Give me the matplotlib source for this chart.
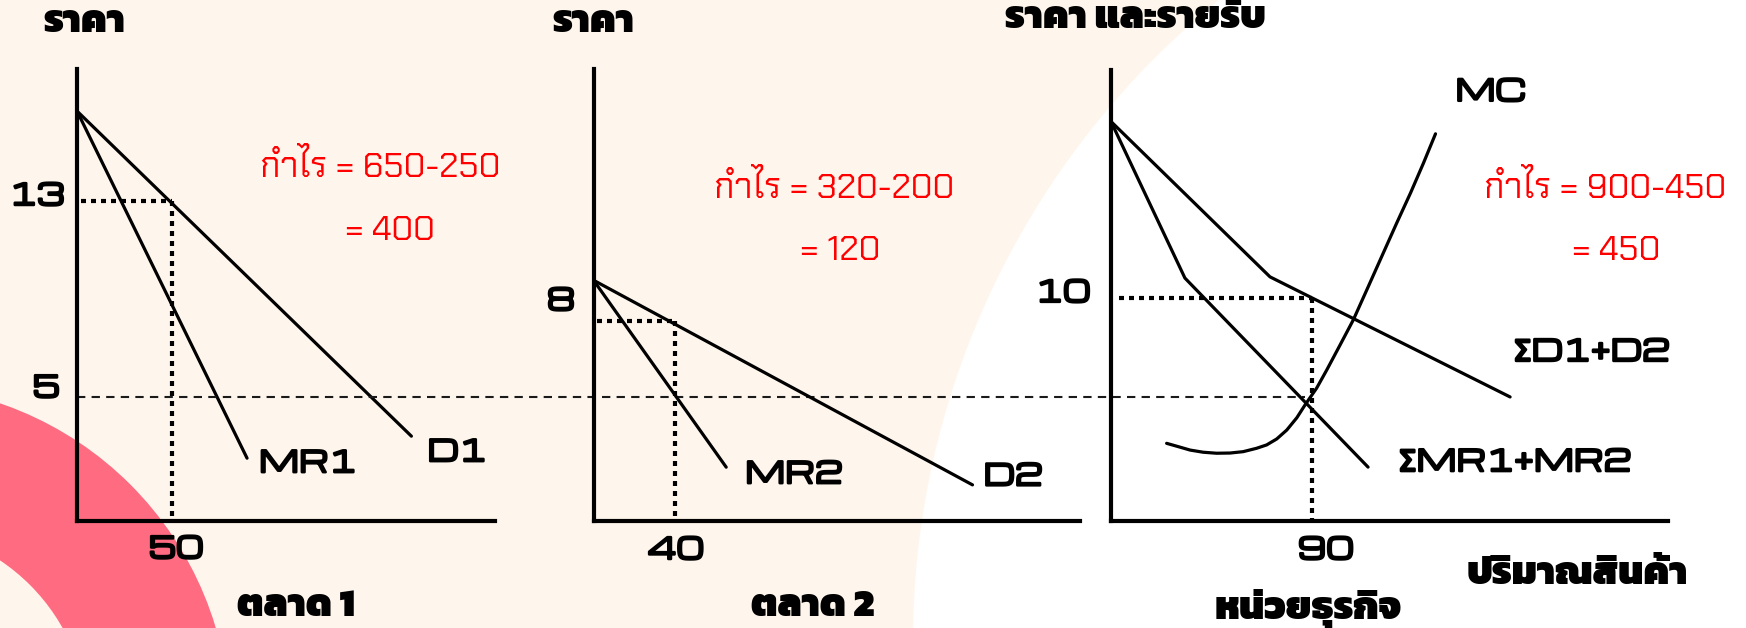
import matplotlib
matplotlib.use('Agg')
import matplotlib.pyplot as plt
import matplotlib.patheffects as pe
from matplotlib.patches import Circle

# ── data (price / quantity units) ──
# ตลาด 1
d1_q, d1_p = [0, 176], [16.7, 3.4]
mr1_q, mr1_p = [0, 89.5], [16.7, 2.5]
q1_opt, p1_opt = 50, 13
# ตลาด 2
d2_q, d2_p = [0, 186.5], [9.6, 1.5]
mr2_q, mr2_p = [0, 65.3], [9.6, 2.2]
q2_opt, p2_opt = 40, 8
# หน่วยธุรกิจ (รวม)
sd_q, sd_p = [0, 71.2, 178.7], [18.9, 11.06, 5.0]
smr_q, smr_p = [0, 33.1, 115.1], [18.9, 11.0, 1.46]
mc_q = [24.9, 30.2, 35.4, 41.3, 47.3, 53.3, 59.2, 65.2, 69.7, 74.2, 78.7, 83.2,
        86.9, 92.1, 96.6, 102.6, 108.5, 115.2, 121.9, 127.9, 134.1, 139.9, 145.3]
mc_p = [2.66, 2.49, 2.32, 2.21, 2.16, 2.17, 2.24, 2.41, 2.58, 2.88, 3.33, 3.95,
        4.6, 5.45, 6.36, 7.63, 8.89, 10.57, 12.26, 13.77, 15.29, 16.8, 18.28]
q3_opt, p3_opt = 90, 10
mc_level = 5
mc_cross = 12         # index of the MC point where MC = MR

profit_text = [('กำไร = 650-250', '= 400'),
               ('กำไร = 320-200', '= 120'),
               ('กำไร = 900-450', '= 450')]

W, H = 1746, 628
CREAM = '#FEF6EC'
PINK = '#FF6B81'
HEAVY = [pe.withStroke(linewidth=1.8, foreground='black')]
BOLD = dict(family=['Michroma', 'Russo One', 'Kanit', 'DejaVu Sans'], color='black',
            path_effects=HEAVY)
THAI = dict(family=['Kanit', 'DejaVu Sans'], fontweight=900, color='black')
RED = dict(family=['Chakra Petch', 'DejaVu Sans'], color='#FF0000', fontsize=25)
LW = 2.3

fig = plt.figure(figsize=(W / 100, H / 100), dpi=100, facecolor=CREAM)

# ── background decoration ──
bg = fig.add_axes([0, 0, 1, 1], zorder=-5)
bg.set_xlim(0, W)
bg.set_ylim(H, 0)
bg.axis('off')
bg.add_patch(Circle((1739, 642), 826, color='white', lw=0))
bg.add_patch(Circle((-110, 725), 340, color=PINK, lw=0))
bg.add_patch(Circle((-110, 725), 198, color=CREAM, lw=0))


def px(x0, y0, x1, y1):
    """left/top/right/bottom in pixels -> add_axes rect"""
    return [x0 / W, 1 - y1 / H, (x1 - x0) / W, (y1 - y0) / H]


def setup(ax, xlim, ylim):
    ax.set_xlim(*xlim)
    ax.set_ylim(*ylim)
    ax.patch.set_alpha(0)
    for s in ('top', 'right'):
        ax.spines[s].set_visible(False)
    for s in ('left', 'bottom'):
        ax.spines[s].set_linewidth(3.0)
        ax.spines[s].set_capstyle('projecting')
    ax.set_xticks([])
    ax.set_yticks([])


def lab(ax, text, xy, off, size=21, ha='center', coords='data', style=BOLD):
    ax.annotate(text, xy=xy, xycoords=coords, xytext=(off[0] * 0.72, off[1] * 0.72),
                textcoords='offset points', ha=ha, va='center', fontsize=size,
                annotation_clip=False, **style)


def guides(ax, q, p):
    y0 = ax.get_ylim()[0]
    kw = dict(color='black', lw=3.0, ls=(0, (1.2, 1.2)), dash_capstyle='butt')
    ax.plot([q * 0.04, q], [p, p], **kw)
    ax.plot([q, q], [p, y0], **kw)


ax1 = fig.add_axes(px(77, 69, 495, 521))
ax2 = fig.add_axes(px(593.5, 69, 1080, 521))
ax3 = fig.add_axes(px(1111, 70, 1668, 521))
setup(ax1, (0, 220), (-0.07, 18.42))
setup(ax2, (0, 239.4), (0.07, 17.96))
setup(ax3, (0, 249.4), (-1.26, 21.5))

line = dict(color='black', lw=LW, solid_capstyle='round', solid_joinstyle='round')

# panel 1
ax1.plot(d1_q, d1_p, **line)
ax1.plot(mr1_q, mr1_p, **line)
guides(ax1, q1_opt, p1_opt)
lab(ax1, 'MR1', (mr1_q[-1], mr1_p[-1]), (12, -6), ha='left')
lab(ax1, 'D1', (d1_q[-1], d1_p[-1]), (16, -17), ha='left')
lab(ax1, str(p1_opt), (0, p1_opt), (-40, 4.5))
lab(ax1, str(mc_level), (0, mc_level), (-31, 8))
lab(ax1, str(q1_opt), (q1_opt, ax1.get_ylim()[0]), (4, -29))
lab(ax1, 'ราคา', (0, 1), (7, 46), size=28, coords='axes fraction', style=THAI)

# panel 2
ax2.plot(d2_q, d2_p, **line)
ax2.plot(mr2_q, mr2_p, **line)
guides(ax2, q2_opt, p2_opt)
lab(ax2, 'MR2', (mr2_q[-1], mr2_p[-1]), (19, -8), ha='left')
lab(ax2, 'D2', (d2_q[-1], d2_p[-1]), (11, 7.5), ha='left')
lab(ax2, str(p2_opt), (0, p2_opt), (-32.5, 18.7))
lab(ax2, str(q2_opt), (q2_opt, ax2.get_ylim()[0]), (1, -30))
lab(ax2, 'ราคา', (0, 1), (0, 47), size=28, coords='axes fraction', style=THAI)

# panel 3
ax3.plot(sd_q, sd_p, **line)
ax3.plot(smr_q, smr_p, **line)
ax3.plot(mc_q, mc_p, **line)
guides(ax3, q3_opt, p3_opt)
lab(ax3, 'MC', (mc_q[-1], mc_p[-1]), (20, 41), ha='left')
lab(ax3, 'ΣD1+D2', (sd_q[-1], sd_p[-1]), (3, 44), ha='left')
lab(ax3, 'ΣMR1+MR2', (smr_q[-1], smr_p[-1]), (30, 4), ha='left')
lab(ax3, str(p3_opt), (0, p3_opt), (-48, 4))
lab(ax3, str(q3_opt), (q3_opt, ax3.get_ylim()[0]), (14, -30))
lab(ax3, 'ราคา และรายรับ', (0, 1), (24, 52), size=28, coords='axes fraction', style=THAI)

# dashed MC = MR level running across all three panels
end_disp = ax3.transData.transform((mc_q[mc_cross], mc_level))
end_x = ax1.transData.inverted().transform(end_disp)[0]
ax1.plot([0, end_x], [mc_level, mc_level], color='#1a1a1a', lw=1.5,
         ls=(0, (4, 3)), clip_on=False)

# titles
for text, (x, y) in [('ตลาด 1', (296, 607)), ('ตลาด 2', (813, 607)),
                     ('ปริมาณสินค้า', (1577, 575)), ('หน่วยธุรกิจ', (1308, 609))]:
    fig.text(x / W, 1 - y / H, text, ha='center', va='center', fontsize=28, **THAI)

# profit notes
for (l1, l2), (x1, y1, x2, y2) in zip(profit_text, [(380, 167, 390, 232),
                                                   (834, 188, 840, 252),
                                                   (1605, 188, 1616, 252)]):
    fig.text(x1 / W, 1 - y1 / H, l1, ha='center', va='center', **RED)
    fig.text(x2 / W, 1 - y2 / H, l2, ha='center', va='center', **RED)

fig.savefig('out.png', dpi=100, facecolor=CREAM)
